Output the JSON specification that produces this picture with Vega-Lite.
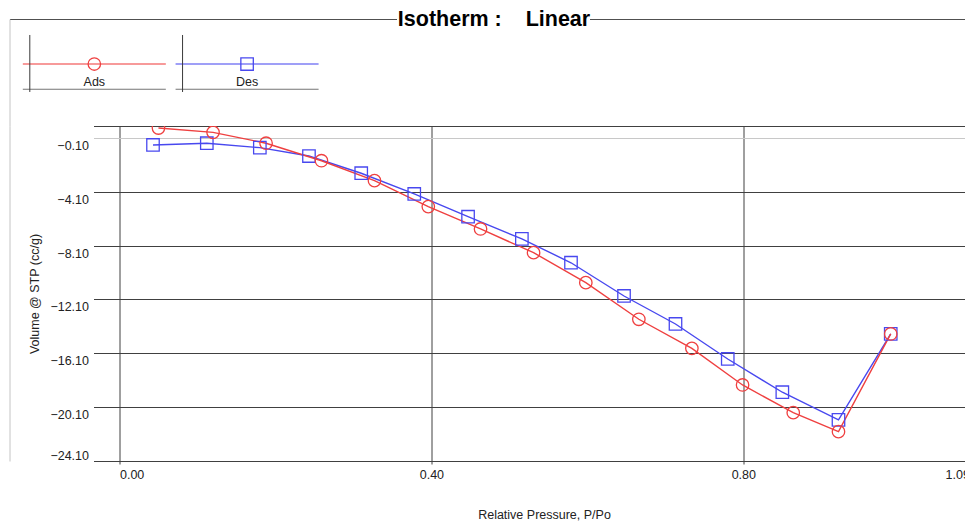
{
  "$schema": "https://vega.github.io/schema/vega-lite/v6.json",
  "padding": {"left": 9.5, "top": 8, "right": 0, "bottom": 0},
  "background": "white",
  "spacing": -2,
  "config": {"font": "Liberation Sans", "view": {"stroke": null}},
  "datasets": {
    "iso": [
      {"s": "Des", "p": 0.043, "v": -0.62},
      {"s": "Des", "p": 0.112, "v": -0.49},
      {"s": "Des", "p": 0.180, "v": -0.82},
      {"s": "Des", "p": 0.243, "v": -1.44},
      {"s": "Des", "p": 0.310, "v": -2.72},
      {"s": "Des", "p": 0.378, "v": -4.26},
      {"s": "Des", "p": 0.447, "v": -5.95},
      {"s": "Des", "p": 0.516, "v": -7.60},
      {"s": "Des", "p": 0.579, "v": -9.37},
      {"s": "Des", "p": 0.647, "v": -11.84},
      {"s": "Des", "p": 0.713, "v": -13.92},
      {"s": "Des", "p": 0.780, "v": -16.52},
      {"s": "Des", "p": 0.850, "v": -18.99},
      {"s": "Des", "p": 0.922, "v": -21.05},
      {"s": "Des", "p": 0.989, "v": -14.66},
      {"s": "Ads", "p": 0.050, "v": 0.64},
      {"s": "Ads", "p": 0.120, "v": 0.32},
      {"s": "Ads", "p": 0.188, "v": -0.49},
      {"s": "Ads", "p": 0.259, "v": -1.79},
      {"s": "Ads", "p": 0.327, "v": -3.27},
      {"s": "Ads", "p": 0.396, "v": -5.20},
      {"s": "Ads", "p": 0.463, "v": -6.86},
      {"s": "Ads", "p": 0.531, "v": -8.62},
      {"s": "Ads", "p": 0.598, "v": -10.85},
      {"s": "Ads", "p": 0.666, "v": -13.57},
      {"s": "Ads", "p": 0.734, "v": -15.73},
      {"s": "Ads", "p": 0.799, "v": -18.45},
      {"s": "Ads", "p": 0.864, "v": -20.51},
      {"s": "Ads", "p": 0.922, "v": -21.92},
      {"s": "Ads", "p": 0.989, "v": -14.66}
    ]
  },
  "vconcat": [
    {
      "width": 876,
      "height": 107,
      "data": {"values": [{"series": "Ads"}, {"series": "Des"}]},
      "layer": [
        {
          "mark": {"type": "point", "opacity": 0},
          "encoding": {
            "x": {
              "field": "series",
              "type": "nominal",
              "scale": {"type": "point", "domain": ["Ads", "Des"], "range": [-84, 876]},
              "axis": {
                "orient": "top",
                "domain": true,
                "domainColor": "#505050",
                "domainWidth": 1,
                "domainDash": [387, 193, 5000],
                "labels": false,
                "ticks": false,
                "grid": false,
                "title": "Isotherm :\u00a0\u00a0\u00a0\u00a0Linear",
                "titleFontSize": 21.5,
                "titleFontWeight": "bold",
                "titleColor": "#000000",
                "titleBaseline": "middle",
                "titleAlign": "center",
                "titleAngle": 0,
                "titleX": 400,
                "titleY": 0
              }
            },
            "y": {
              "datum": 0.5,
              "type": "quantitative",
              "scale": {"domain": [0, 1], "reverse": true, "nice": false, "zero": false},
              "axis": {"orient": "left", "offset": 84, "domain": true, "domainColor": "#c4c4c4", "labels": false, "ticks": false, "grid": false, "title": null}
            }
          }
        },
        {
          "encoding": {
            "x": {
              "field": "series",
              "type": "nominal",
              "scale": {"type": "band", "domain": ["Ads", "Des"], "range": [-70.7, 225.1], "paddingInner": 0.0636, "paddingOuter": 0},
              "axis": null
            }
          },
          "layer": [
            {
              "mark": {"type": "tick", "size": 143, "thickness": 1.4},
              "encoding": {
                "y": {"datum": 0.4206, "type": "quantitative", "scale": {"domain": [0, 1], "reverse": true, "nice": false, "zero": false}, "axis": null},
                "color": {"field": "series", "type": "nominal", "scale": {"domain": ["Ads", "Des"], "range": ["#ef4040", "#4848ef"]}, "legend": null}
              }
            },
            {
              "mark": {"type": "tick", "size": 143, "thickness": 1, "color": "#3a3a3a"},
              "encoding": {
                "y": {"datum": 0.657, "type": "quantitative", "scale": {"domain": [0, 1], "reverse": true, "nice": false, "zero": false}, "axis": null}
              }
            },
            {
              "mark": {"type": "rule", "color": "#3a3a3a", "strokeWidth": 1, "xOffset": 7},
              "encoding": {
                "x": {"field": "series", "type": "nominal", "bandPosition": 0},
                "y": {"datum": 0.1495, "type": "quantitative", "scale": {"domain": [0, 1], "reverse": true, "nice": false, "zero": false}, "axis": null},
                "y2": {"datum": 0.6822}
              }
            },
            {
              "mark": {"type": "point", "filled": false, "size": 155, "strokeWidth": 1.3, "opacity": 1},
              "encoding": {
                "y": {"datum": 0.4206, "type": "quantitative", "scale": {"domain": [0, 1], "reverse": true, "nice": false, "zero": false}, "axis": null},
                "color": {"field": "series", "type": "nominal", "scale": {"domain": ["Ads", "Des"], "range": ["#ef4040", "#4848ef"]}, "legend": null},
                "shape": {"field": "series", "type": "nominal", "scale": {"domain": ["Ads", "Des"], "range": ["circle", "square"]}, "legend": null}
              }
            },
            {
              "mark": {"type": "text", "fontSize": 12.5, "color": "#222222", "baseline": "middle", "align": "center"},
              "encoding": {
                "y": {"datum": 0.5888, "type": "quantitative", "scale": {"domain": [0, 1], "reverse": true, "nice": false, "zero": false}, "axis": null},
                "text": {"field": "series", "type": "nominal"}
              }
            }
          ]
        }
      ],
      "resolve": {"scale": {"x": "independent", "y": "independent"}, "axis": {"x": "independent", "y": "independent"}}
    },
    {
      "width": 876,
      "height": 335,
      "data": {"name": "iso"},
      "layer": [
        {
          "encoding": {
            "x": {
              "field": "p",
              "type": "quantitative",
              "scale": {"domain": [-0.0333, 1.09], "nice": false, "zero": false},
              "axis": {
                "values": [0, 0.4, 0.8, 1.0899],
                "format": ".2f",
                "title": "Relative Pressure, P/Po",
                "grid": true,
                "gridColor": "#404040",
                "gridWidth": 1,
                "domain": true,
                "domainColor": "#404040",
                "ticks": true,
                "tickColor": "#404040",
                "tickSize": 3,
                "labelPadding": 4,
                "labelFontSize": 12.5,
                "labelColor": "#222222",
                "labelFlush": false,
                "labelOverlap": false,
                "labelAlign": {"condition": [{"test": "datum.value == 0", "value": "left"}, {"test": "datum.value > 1", "value": "right"}], "value": "center"},
                "titleFontSize": 12.5,
                "titleFontWeight": "normal",
                "titleColor": "#222222",
                "titlePadding": 28,
                "titleX": 450.5
              }
            },
            "y": {
              "field": "v",
              "type": "quantitative",
              "scale": {"domain": [-24.1, 0.79], "nice": false, "zero": false},
              "axis": {
                "values": [-24.1, -20.1, -16.1, -12.1, -8.1, -4.1, -0.1, 0.7899],
                "format": ".2f",
                "labelExpr": "datum.value > 0 ? '' : datum.label",
                "title": "Volume @ STP (cc/g)",
                "grid": true,
                "gridColor": {"condition": {"test": "abs(datum.value + 0.1) < 0.001", "value": "#c8c8c8"}, "value": "#404040"},
                "gridWidth": 1,
                "domain": false,
                "ticks": false,
                "tickSize": 0,
                "labelPadding": 5,
                "labelFontSize": 12.5,
                "labelColor": "#222222",
                "labelOverlap": false,
                "labelBaseline": {"condition": {"test": "datum.value < -24", "value": "bottom"}, "value": "top"},
                "labelOffset": 1.5,
                "titleFontSize": 12.5,
                "titleFontWeight": "normal",
                "titleColor": "#222222",
                "titlePadding": 8
              }
            },
            "color": {"field": "s", "type": "nominal", "scale": {"domain": ["Ads", "Des"], "range": ["#ef4040", "#4848ef"]}, "legend": null}
          },
          "layer": [
            {"mark": {"type": "line", "interpolate": "linear", "strokeWidth": 1.4, "clip": true}},
            {
              "mark": {"type": "point", "filled": false, "size": 155, "strokeWidth": 1.3, "opacity": 1, "clip": true},
              "encoding": {
                "shape": {"field": "s", "type": "nominal", "scale": {"domain": ["Ads", "Des"], "range": ["circle", "square"]}, "legend": null}
              }
            }
          ]
        },
        {
          "mark": {"type": "point", "opacity": 0},
          "encoding": {
            "y": {
              "field": "v",
              "type": "quantitative",
              "scale": {"domain": [-24.1, 0.79], "nice": false, "zero": false},
              "axis": {"orient": "left", "offset": 84, "domain": true, "domainColor": "#c4c4c4", "labels": false, "ticks": false, "grid": false, "title": null}
            }
          }
        }
      ],
      "resolve": {"scale": {"y": "independent"}, "axis": {"y": "independent"}}
    }
  ]
}
